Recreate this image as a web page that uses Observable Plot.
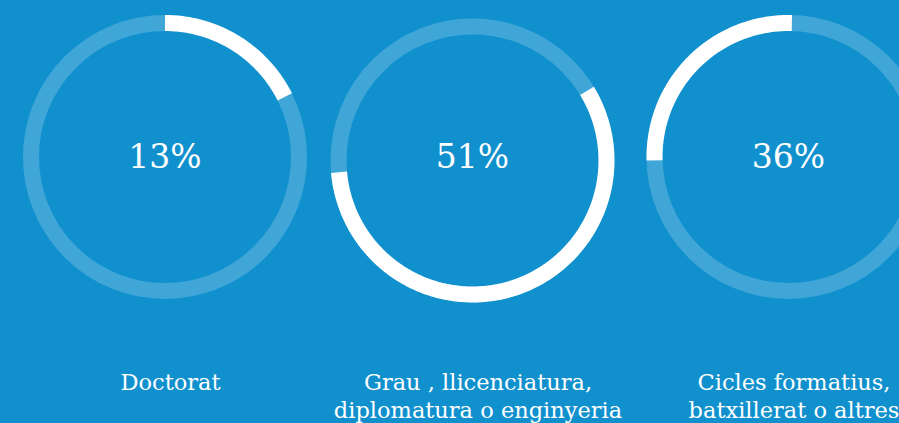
<!DOCTYPE html>
<html>
<head>
<meta charset="utf-8">
<script src="https://cdn.jsdelivr.net/npm/d3@7"></script>
<script src="https://cdn.jsdelivr.net/npm/@observablehq/plot@0.6"></script>
<style>
html, body { margin: 0; padding: 0; background: #1190ce; overflow: hidden; }
#chart svg { display: block; }
</style>
</head>
<body>
<div id="chart"></div>
<script>
// ---- data ----
const categories = [
  "Doctorat",
  "Grau , llicenciatura,\ndiplomatura o enginyeria",
  "Cicles formatius,\nbatxillerat o altres"
];
const shares = [13, 51, 36];            // labelled percentages
const arcStart = [0, 16.3, 74.6];       // white arc start, % of a full turn from 12 o'clock
const arcEnd = [17.6, 73.6, 100.4];     // white arc end, % of a full turn

// ---- layout ----
const W = 899, H = 423;
const ringCenters = [[164.5, 156.5], [472, 160], [788, 156.5]];
const ringRadius = 134, ringWidth = 16;
const valueY = 156.5, labelY = 370, labelShift = 5.5;
const bg = "#1190ce";

const angle = d3.scaleLinear().domain([0, 100]).range([0, 2 * Math.PI]);

function arcPoints(i, from, to) {
  const [cx, cy] = ringCenters[i];
  const n = Math.max(2, Math.ceil((to - from) * 4));
  return d3.range(n + 1).map(k => {
    const a = angle(from + (to - from) * k / n);
    return {ring: i, x: cx + ringRadius * Math.sin(a), y: cy - ringRadius * Math.cos(a)};
  });
}

const rows = categories.map((c, i) => ({
  label: c, share: shares[i], cx: ringCenters[i][0], cy: ringCenters[i][1]
}));
const filled = categories.flatMap((_, i) => arcPoints(i, arcStart[i], arcEnd[i]));

const chart = Plot.plot({
  width: W,
  height: H,
  margin: 0,
  x: {type: "identity", axis: null},
  y: {type: "identity", axis: null},
  style: {background: bg, fontFamily: "DejaVu Serif", color: "white"},
  marks: [
    Plot.dot(rows, {x: "cx", y: "cy", r: ringRadius, fill: "none", stroke: "white", strokeOpacity: 0.2, strokeWidth: ringWidth}),
    Plot.line(filled, {x: "x", y: "y", z: "ring", stroke: "white", strokeWidth: ringWidth, strokeLinecap: "butt", strokeLinejoin: "round", curve: "linear"}),
    Plot.text(rows, {x: "cx", y: valueY, text: d => d.share + "%", fill: "white", fontSize: 33, fontFamily: "DejaVu Serif", textAnchor: "middle", lineAnchor: "middle"}),
    Plot.text(rows, {x: d => d.cx + labelShift, y: labelY, text: "label", fill: "white", fontSize: 22.5, fontFamily: "DejaVu Serif", textAnchor: "middle", lineAnchor: "top", lineHeight: 1.24})
  ]
});
document.getElementById("chart").appendChild(chart);
</script>
</body>
</html>
